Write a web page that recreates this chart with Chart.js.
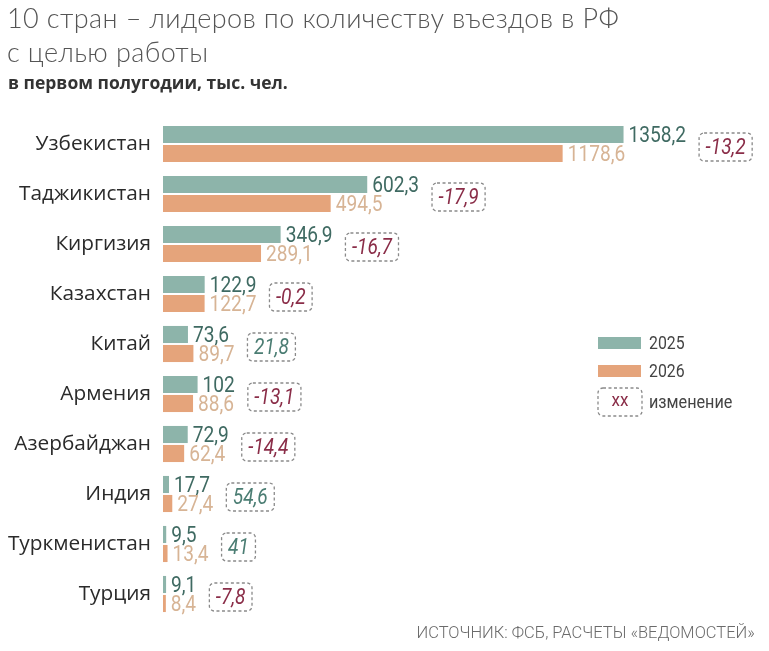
<!DOCTYPE html>
<html><head><meta charset="utf-8">
<script src="https://cdn.jsdelivr.net/npm/chart.js@4.4.1/dist/chart.umd.min.js"></script>
<style>
html,body{margin:0;padding:0;background:#fff;}
#wrap{position:relative;width:769px;height:651px;overflow:hidden;}
#c{position:absolute;left:0;top:0;}
.title{position:absolute;left:7px;top:1px;font-family:'Lato','Open Sans',sans-serif;font-weight:300;font-size:27px;line-height:34px;color:#555;letter-spacing:0.4px;white-space:nowrap;}
.sub{position:absolute;left:8px;top:70px;font-family:'Open Sans',sans-serif;font-weight:700;font-size:17.5px;color:#333;}
.src{position:absolute;right:14px;top:622px;font-family:'Roboto',sans-serif;font-weight:300;font-size:17px;color:#6b6b6b;transform:scaleX(0.97);transform-origin:right center;white-space:nowrap;}
</style></head>
<body><div id="wrap">
<canvas id="c" width="769" height="651"></canvas>
<div class="title">10 стран – лидеров по количеству въездов в РФ<br>с целью работы</div>
<div class="sub">в первом полугодии, тыс. чел.</div>
<div class="src">ИСТОЧНИК: ФСБ, РАСЧЕТЫ «ВЕДОМОСТЕЙ»</div>
</div>
<script>
const categories = ['Узбекистан','Таджикистан','Киргизия','Казахстан','Китай','Армения','Азербайджан','Индия','Туркменистан','Турция'];
const values2025 = [1358.2,602.3,346.9,122.9,73.6,102,72.9,17.7,9.5,9.1];
const values2026 = [1178.6,494.5,289.1,122.7,89.7,88.6,62.4,27.4,13.4,8.4];
const changes = [-13.2,-17.9,-16.7,-0.2,21.8,-13.1,-14.4,54.6,41,-7.8];
const seriesLabels = ['2025','2026'];
const changeLegendLabel = 'изменение';

const TEAL = '#8db4aa', ORANGE = '#e5a47b';
const TEAL_TXT = '#3f6a62', ORANGE_TXT = '#d7b495';
const NEG_TXT = '#8a2d48', POS_TXT = '#4b7d73';
const FONT = "'Roboto', sans-serif";
const SX = 0.87; // horizontal condensing of label text
const fmt = v => String(v).replace('.', ',');

function dashedBox(ctx, x, y, w, h) {
  ctx.save();
  ctx.strokeStyle = '#8a8a8a';
  ctx.lineWidth = 1.3;
  ctx.setLineDash([3, 2.5]);
  ctx.beginPath();
  ctx.roundRect(x, y, w, h, 5);
  ctx.stroke();
  ctx.restore();
}
// draws condensed text, returns its drawn width
function condText(ctx, txt, x, y, sx, align) {
  const w = ctx.measureText(txt).width * sx;
  ctx.save();
  let ox = x;
  if (align === 'center') ox = x - w / 2;
  ctx.translate(ox, y);
  ctx.scale(sx, 1);
  ctx.textAlign = 'left';
  ctx.fillText(txt, 0, 0);
  ctx.restore();
  return w;
}

const annot = {
  id: 'annot',
  afterDatasetsDraw(chart) {
    const ctx = chart.ctx;
    const m0 = chart.getDatasetMeta(0).data;
    const m1 = chart.getDatasetMeta(1).data;
    ctx.save();
    ctx.textBaseline = 'middle';
    categories.forEach((c, i) => {
      const b0 = m0[i], b1 = m1[i];
      const t0 = fmt(chart.data.datasets[0].data[i]);
      const t1 = fmt(chart.data.datasets[1].data[i]);
      ctx.font = '22px ' + FONT;
      ctx.fillStyle = TEAL_TXT;
      const w0 = condText(ctx, t0, b0.x + 5, b0.y + 2, SX);
      ctx.fillStyle = ORANGE_TXT;
      const w1 = condText(ctx, t1, b1.x + 5, b1.y + 2, SX);
      const end = Math.max(b0.x + 5 + w0, b1.x + 5 + w1);
      const ct = fmt(changes[i]);
      ctx.font = 'italic 22px ' + FONT;
      const tw = ctx.measureText(ct).width * SX;
      const bw = tw + 13, bh = 28;
      const cy = (b0.y + b1.y) / 2 + 3;
      const bx = end + 13;
      dashedBox(ctx, bx, cy - bh / 2, bw, bh);
      ctx.fillStyle = changes[i] < 0 ? NEG_TXT : POS_TXT;
      condText(ctx, ct, bx + bw / 2, cy + 1, SX, 'center');
    });
    // legend
    const lx = 598;
    const ds = chart.data.datasets;
    ctx.font = '18px ' + FONT;
    ctx.fillStyle = ds[0].backgroundColor;
    ctx.fillRect(lx, 337, 43, 12);
    ctx.fillStyle = ds[1].backgroundColor;
    ctx.fillRect(lx, 365, 43, 12);
    ctx.fillStyle = '#444';
    condText(ctx, ds[0].label, 649, 344, 0.88);
    condText(ctx, ds[1].label, 649, 372, 0.88);
    dashedBox(ctx, lx, 388, 44, 28);
    ctx.fillStyle = NEG_TXT;
    condText(ctx, 'xx', lx + 22, 401, 0.95, 'center');
    ctx.fillStyle = '#444';
    condText(ctx, changeLegendLabel, 649, 403, 0.9);
    ctx.restore();
  }
};

new Chart(document.getElementById('c'), {
  type: 'bar',
  data: {
    labels: categories,
    datasets: [
      { label: seriesLabels[0], data: values2025, backgroundColor: TEAL, categoryPercentage: 0.76, barPercentage: 0.9 },
      { label: seriesLabels[1], data: values2026, backgroundColor: ORANGE, categoryPercentage: 0.76, barPercentage: 0.9 }
    ]
  },
  options: {
    responsive: false,
    animation: false,
    indexAxis: 'y',
    layout: { padding: { top: 119, bottom: 32, left: 0, right: 16 } },
    plugins: { legend: { display: false }, tooltip: { enabled: false }, title: { display: false } },
    scales: {
      x: { display: false, min: 0, max: 1740 },
      y: {
        grid: { display: false, drawTicks: false }, border: { display: false },
        ticks: { color: '#2a2a2a', padding: 12, font: { family: "'Open Sans', sans-serif", size: 20.8 } },
        afterFit(s) { s.width = 163; }
      }
    }
  },
  plugins: [annot]
});
</script>
</body></html>
